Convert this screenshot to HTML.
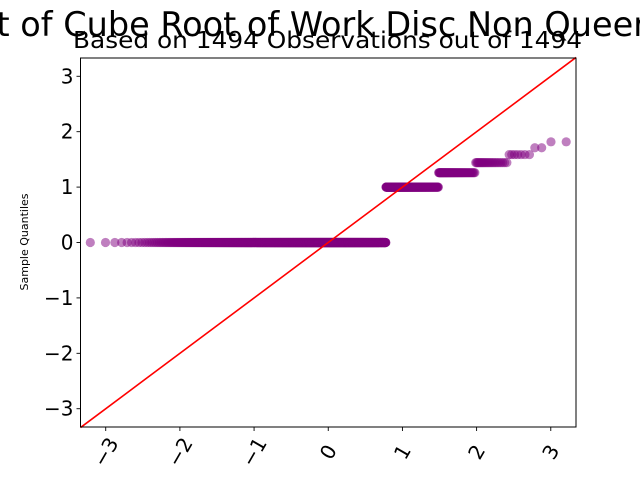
<!DOCTYPE html>
<html><head><meta charset="utf-8"><style>
html,body{margin:0;padding:0;background:#fff;}
svg{display:block;font-family:"DejaVu Sans","Liberation Sans",sans-serif;}
</style></head><body>
<svg id="chart" width="640" height="480" viewBox="0 0 640 480">
<text x="647" y="36" font-size="33.5" text-anchor="end" fill="#000">Probability Plot of Cube Root of Work Disc Non Queer</text>
<text x="73" y="48" font-size="23" textLength="509" lengthAdjust="spacingAndGlyphs" fill="#000">Based on 1494 Observations out of 1494</text>
<text transform="translate(28,242) rotate(-90)" font-size="11" text-anchor="middle" fill="#000">Sample Quantiles</text>
<g id="plot"></g>
</svg>
<script>
const levels = [0, 1, 1.26, 1.442, 1.587, 1.71, 1.817];
const counts = [1168, 224, 67, 24, 7, 2, 2];
const xTicks = [-3, -2, -1, 0, 1, 2, 3];
const yTicks = [-3, -2, -1, 0, 1, 2, 3];
const xTickLabels = ["\u22123", "\u22122", "\u22121", "0", "1", "2", "3"];
const yTickLabels = ["\u22123", "\u22122", "\u22121", "0", "1", "2", "3"];

const L = 80.5, R = 576, T = 58, B = 427;
const xMin = -3.34, xMax = 3.34, yMin = -3.33, yMax = 3.33;
function sx(v){ return L + (v - xMin) / (xMax - xMin) * (R - L); }
function sy(v){ return B - (v - yMin) / (yMax - yMin) * (B - T); }
function invNorm(p){
  const a=[-39.69683028665376,220.9460984245205,-275.9285104469687,138.357751867269,-30.66479806614716,2.506628277459239];
  const b=[-54.47609879822406,161.5858368580409,-155.6989798598866,66.80131188771972,-13.28068155288572];
  const c=[-0.007784894002430293,-0.3223964580411365,-2.400758277161838,-2.549732539343734,4.374664141464968,2.938163982698783];
  const d=[0.007784695709041462,0.3224671290700398,2.445134137142996,3.754408661907416];
  const pl=0.02425; let q,r;
  if(p<pl){q=Math.sqrt(-2*Math.log(p));return (((((c[0]*q+c[1])*q+c[2])*q+c[3])*q+c[4])*q+c[5])/((((d[0]*q+d[1])*q+d[2])*q+d[3])*q+1);}
  if(p>1-pl){q=Math.sqrt(-2*Math.log(1-p));return -(((((c[0]*q+c[1])*q+c[2])*q+c[3])*q+c[4])*q+c[5])/((((d[0]*q+d[1])*q+d[2])*q+d[3])*q+1);}
  q=p-0.5;r=q*q;return (((((a[0]*r+a[1])*r+a[2])*r+a[3])*r+a[4])*r+a[5])*q/(((((b[0]*r+b[1])*r+b[2])*r+b[3])*r+b[4])*r+1);
}
const NS="http://www.w3.org/2000/svg";
const g=document.getElementById('plot');
function mk(tag, attrs){ const e=document.createElementNS(NS,tag); for(const k in attrs) e.setAttribute(k,attrs[k]); g.appendChild(e); return e; }

const n = counts.reduce((s,c)=>s+c,0);
const sample=[]; levels.forEach((lv,i)=>{ for(let k=0;k<counts[i];k++) sample.push(lv); });
const pts=mk('g',{});


sample.forEach((v,i)=>{
  const x=invNorm((i+1)/(n+1));
  const c=document.createElementNS(NS,'circle');
  c.setAttribute('cx',sx(x)); c.setAttribute('cy',sy(v)); c.setAttribute('r',4.6);
  c.setAttribute('fill','#800080'); c.setAttribute('fill-opacity','0.5');
  
  
  pts.appendChild(c);
});
const ref=mk('line',{x1:sx(xMin),y1:sy(xMin),x2:sx(xMax),y2:sy(xMax),stroke:'#ff0000','stroke-width':1.6});


const frame=mk('rect',{x:L,y:T,width:R-L,height:B-T,fill:'none',stroke:'#000','stroke-width':1});


xTicks.forEach((t,i)=>{
  const x=sx(t);
  const tk=mk('line',{x1:x,y1:B,x2:x,y2:B+4,stroke:'#000','stroke-width':0.9});
  
  
  const lb=mk('text',{x:x,y:459,'font-size':20,'text-anchor':'middle',transform:'rotate(-60 '+x+' 452)'});
  lb.textContent=xTickLabels[i];
  
  
});
yTicks.forEach((t,i)=>{
  const y=sy(t);
  const tk=mk('line',{x1:L-4,y1:y,x2:L,y2:y,stroke:'#000','stroke-width':0.9});
  
  
  const lb=mk('text',{x:L-7,y:y+7,'font-size':20,'text-anchor':'end'});
  lb.textContent=yTickLabels[i];
  
  
});
</script>
</body></html>
